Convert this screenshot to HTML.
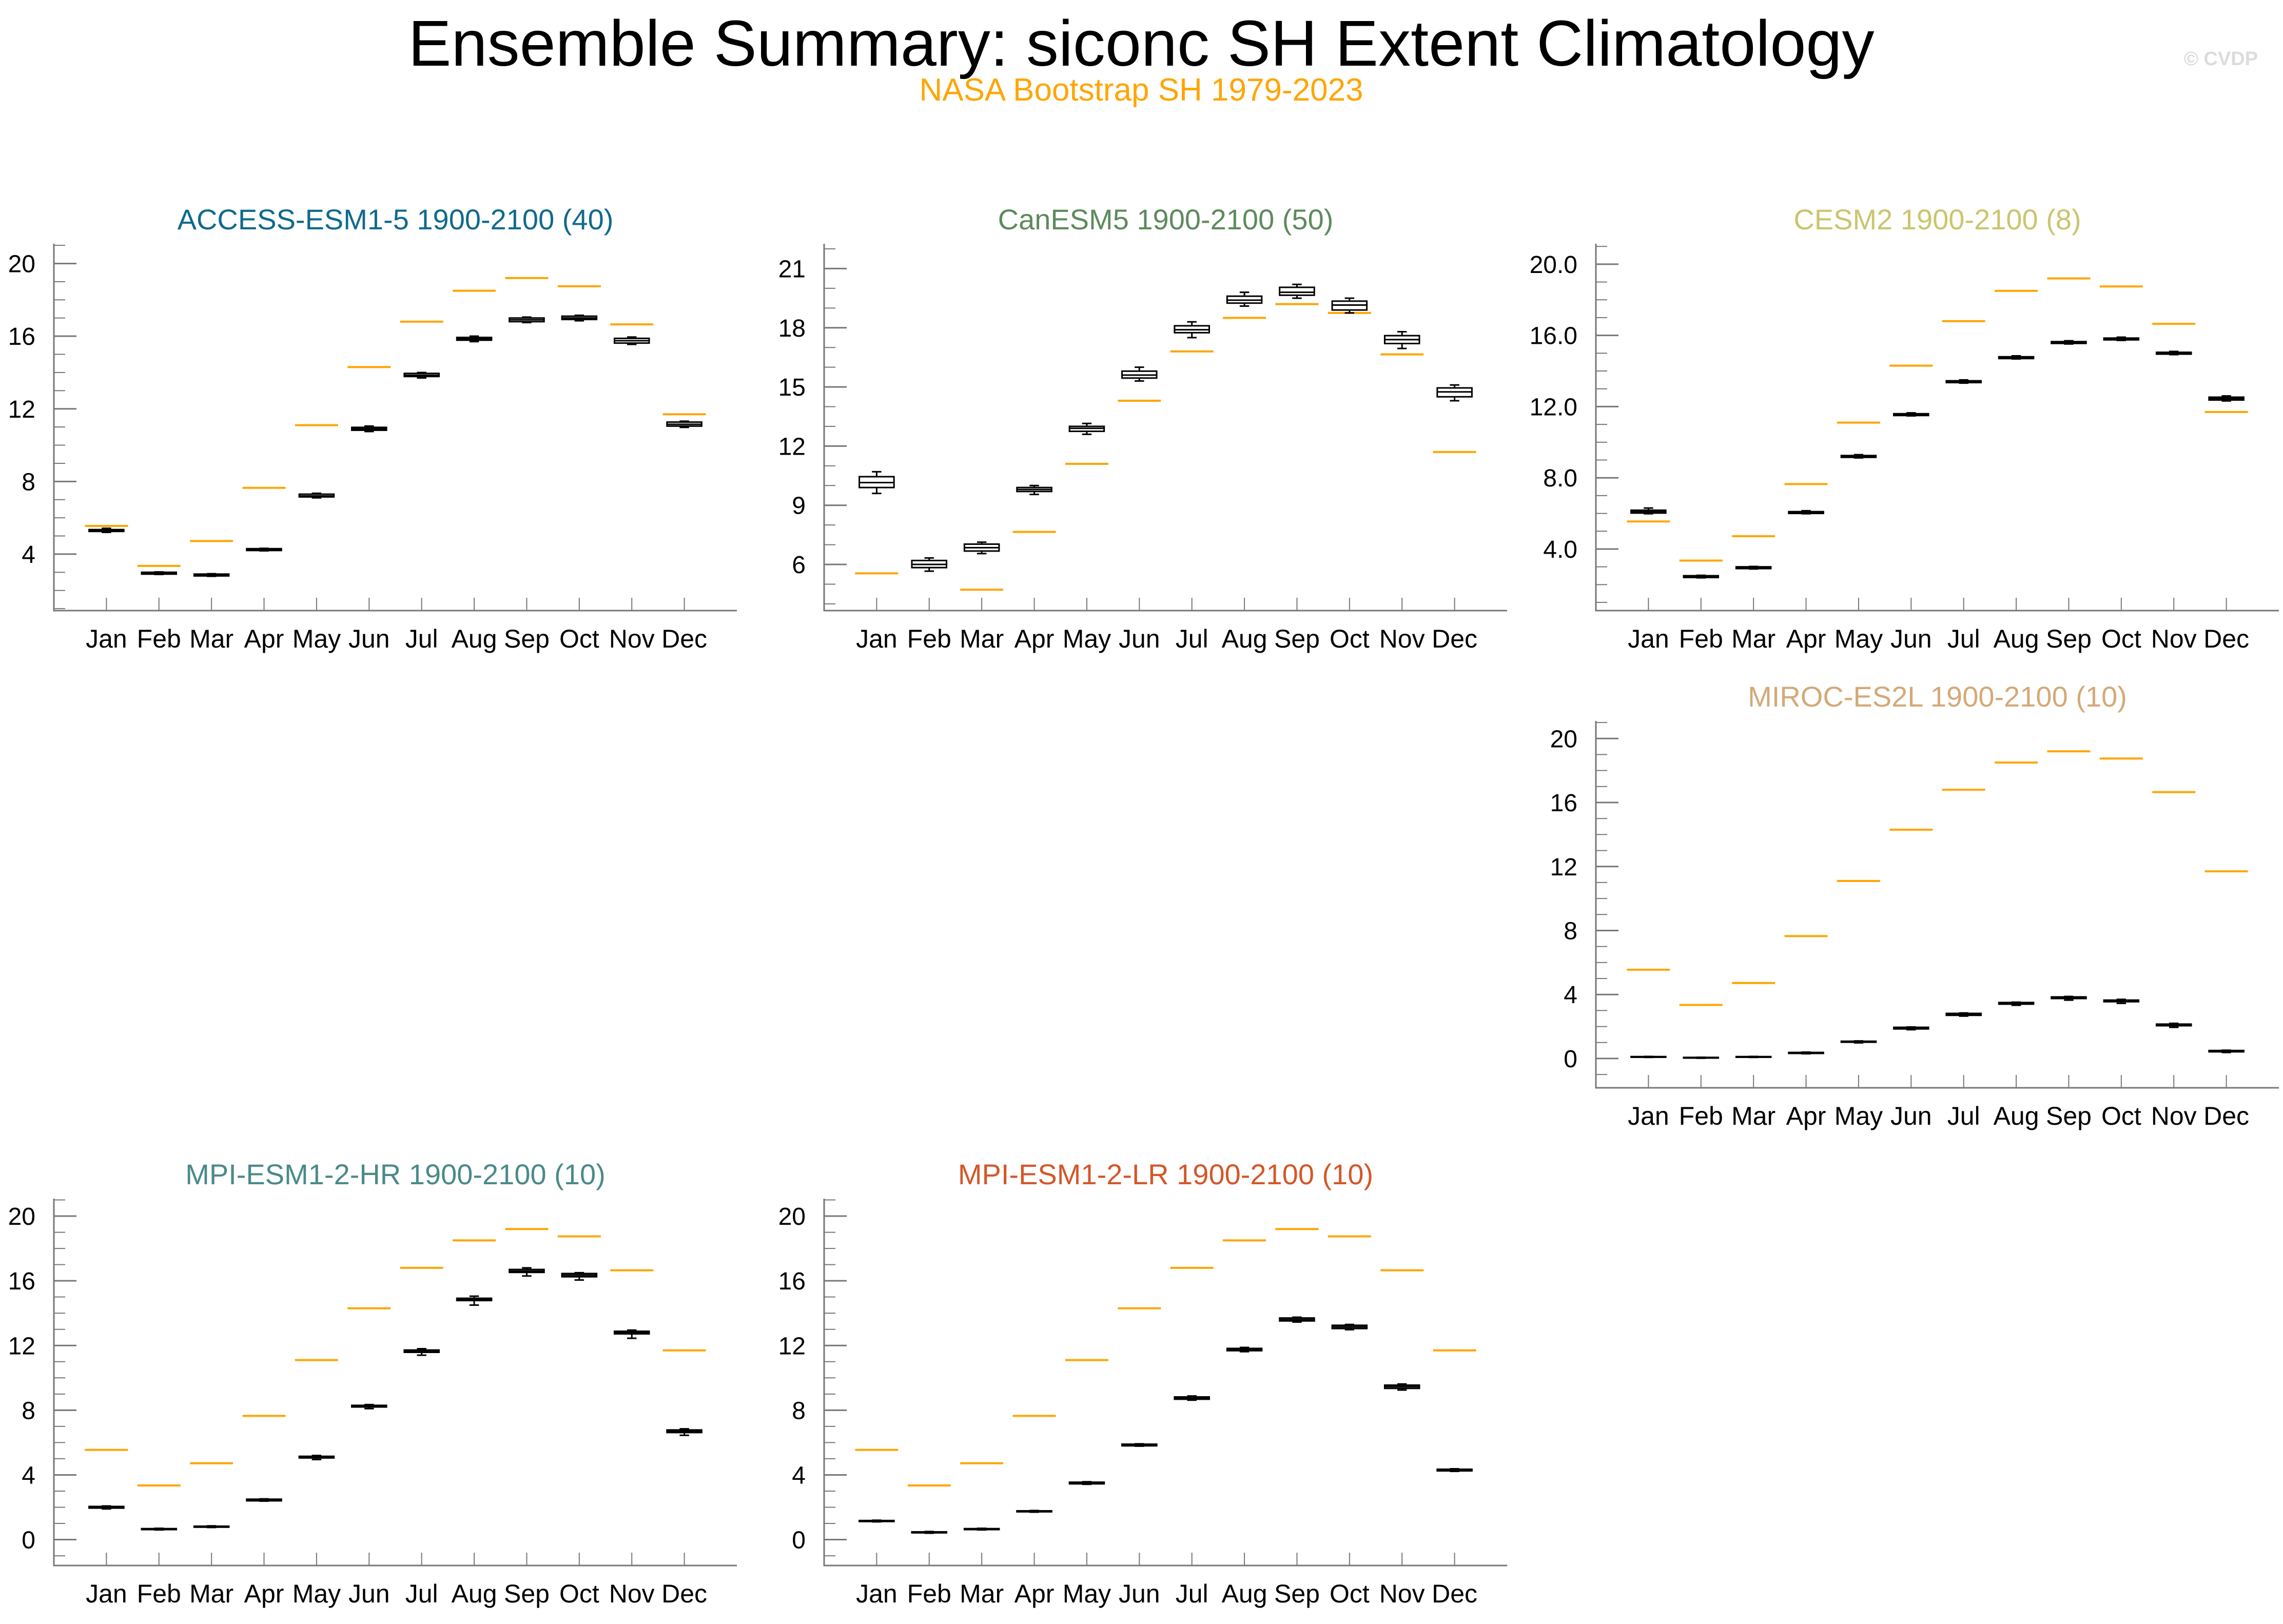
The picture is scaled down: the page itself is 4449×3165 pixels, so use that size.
<!DOCTYPE html>
<html><head><meta charset="utf-8"><title>Ensemble Summary</title>
<style>html,body{margin:0;padding:0;background:#fff}svg{display:block}text{font-family:"Liberation Sans",Arial,sans-serif}</style>
</head><body>
<svg id="root" xmlns="http://www.w3.org/2000/svg" width="4449" height="3165" viewBox="0 0 4449 3165">
<rect width="4449" height="3165" fill="#fff"/>
<defs id="defs"></defs>
<text x="2224" y="128" font-size="126" text-anchor="middle" fill="#000">Ensemble Summary: siconc SH Extent Climatology</text>
<text x="2224" y="196" font-size="62" text-anchor="middle" fill="#ffa500">NASA Bootstrap SH 1979-2023</text>
<text x="4400" y="127" font-size="38" font-weight="bold" text-anchor="end" fill="#dcdcdc">© CVDP</text>
<g id="panels"></g>
</svg>
<script>
const months = ["Jan","Feb","Mar","Apr","May","Jun","Jul","Aug","Sep","Oct","Nov","Dec"];
const obs = [5.55,3.35,4.72,7.65,11.1,14.3,16.8,18.5,19.2,18.75,16.65,11.7];

const accessMed = [5.3,2.95,2.85,4.25,7.2,10.9,13.85,15.85,16.9,17.0,15.75,11.15];
const accessQ1 = [5.25,2.9,2.8,4.2,7.15,10.82,13.78,15.78,16.8,16.92,15.62,11.05];
const accessQ3 = [5.35,3.0,2.9,4.3,7.3,10.98,13.95,15.93,17.0,17.1,15.88,11.27];
const accessLo = [5.2,2.88,2.78,4.18,7.1,10.75,13.7,15.7,16.75,16.85,15.55,10.98];
const accessHi = [5.42,3.02,2.92,4.32,7.35,11.05,14.0,16.0,17.05,17.15,15.95,11.32];

const canMed = [10.15,6.0,6.85,9.8,12.9,15.6,17.9,19.4,19.8,19.15,17.4,14.75];
const canQ1 = [9.9,5.84,6.68,9.7,12.75,15.45,17.75,19.25,19.65,18.9,17.2,14.5];
const canQ3 = [10.45,6.2,7.03,9.9,13.0,15.8,18.1,19.6,20.05,19.35,17.6,14.95];
const canLo = [9.6,5.66,6.55,9.55,12.6,15.3,17.5,19.1,19.5,18.75,16.95,14.3];
const canHi = [10.7,6.33,7.13,10.0,13.15,16.0,18.3,19.8,20.2,19.5,17.8,15.1];

const cesmMed = [6.1,2.45,2.95,6.05,9.2,11.55,13.4,14.75,15.6,15.8,15.0,12.45];
const cesmQ1 = [6.02,2.4,2.9,6.0,9.15,11.5,13.35,14.7,15.55,15.75,14.95,12.37];
const cesmQ3 = [6.18,2.5,3.0,6.1,9.25,11.6,13.45,14.8,15.65,15.85,15.05,12.53];
const cesmLo = [5.98,2.38,2.88,5.98,9.12,11.48,13.32,14.68,15.52,15.72,14.92,12.32];
const cesmHi = [6.3,2.52,3.02,6.15,9.3,11.65,13.5,14.85,15.7,15.9,15.1,12.6];

const mirocMed = [0.1,0.05,0.1,0.35,1.05,1.9,2.75,3.45,3.8,3.6,2.1,0.45];
const mirocQ1 = [0.08,0.03,0.08,0.32,1.02,1.85,2.7,3.4,3.75,3.55,2.05,0.42];
const mirocQ3 = [0.12,0.07,0.12,0.38,1.08,1.95,2.82,3.5,3.85,3.65,2.15,0.5];
const mirocLo = [0.07,0.02,0.07,0.3,0.98,1.8,2.65,3.33,3.65,3.45,1.95,0.38];
const mirocHi = [0.13,0.08,0.13,0.4,1.1,1.97,2.85,3.52,3.88,3.7,2.2,0.52];

const hrMed = [2.0,0.65,0.8,2.45,5.1,8.25,11.65,14.85,16.6,16.35,12.8,6.7];
const hrQ1 = [1.95,0.62,0.77,2.4,5.05,8.2,11.58,14.78,16.52,16.25,12.72,6.62];
const hrQ3 = [2.05,0.68,0.83,2.5,5.15,8.3,11.72,14.92,16.7,16.45,12.88,6.78];
const hrLo = [1.9,0.6,0.75,2.38,4.95,8.1,11.4,14.5,16.3,16.05,12.45,6.45];
const hrHi = [2.08,0.7,0.85,2.52,5.2,8.35,11.8,15.05,16.8,16.5,12.95,6.85];

const lrMed = [1.15,0.45,0.65,1.75,3.5,5.85,8.75,11.75,13.6,13.15,9.45,4.3];
const lrQ1 = [1.12,0.42,0.62,1.72,3.45,5.8,8.68,11.68,13.52,13.05,9.35,4.25];
const lrQ3 = [1.18,0.48,0.68,1.78,3.55,5.9,8.82,11.82,13.7,13.25,9.55,4.35];
const lrLo = [1.1,0.4,0.6,1.7,3.42,5.78,8.62,11.62,13.45,12.98,9.25,4.22];
const lrHi = [1.2,0.5,0.7,1.8,3.58,5.92,8.88,11.88,13.75,13.3,9.62,4.38];

const NS = "http://www.w3.org/2000/svg";
const root = document.getElementById("panels");
const defs = document.getElementById("defs");
function mk(tag, attrs, parent){const e=document.createElementNS(NS,tag);for(const k in attrs)e.setAttribute(k,attrs[k]);parent.appendChild(e);return e;}

const panels = [
 {name:"access-esm1-5",title:"ACCESS-ESM1-5 1900-2100 (40)",color:"#0f6a8c",L:105,T:475,ymin:0.89,ymax:21.09,ticks:[4,8,12,16,20],fmt:0,med:accessMed,q1:accessQ1,q3:accessQ3,lo:accessLo,hi:accessHi},
 {name:"canesm5",title:"CanESM5 1900-2100 (50)",color:"#5e8a5c",L:1606,T:475,ymin:3.66,ymax:22.26,ticks:[6,9,12,15,18,21],fmt:0,med:canMed,q1:canQ1,q3:canQ3,lo:canLo,hi:canHi},
 {name:"cesm2",title:"CESM2 1900-2100 (8)",color:"#cbc56e",L:3110,T:475,ymin:0.54,ymax:21.15,ticks:[4,8,12,16,20],fmt:1,med:cesmMed,q1:cesmQ1,q3:cesmQ3,lo:cesmLo,hi:cesmHi},
 {name:"miroc-es2l",title:"MIROC-ES2L 1900-2100 (10)",color:"#d2aa78",L:3110,T:1405,ymin:-1.83,ymax:21.1,ticks:[0,4,8,12,16,20],fmt:0,med:mirocMed,q1:mirocQ1,q3:mirocQ3,lo:mirocLo,hi:mirocHi},
 {name:"mpi-esm1-2-hr",title:"MPI-ESM1-2-HR 1900-2100 (10)",color:"#4a8a88",L:105,T:2336,ymin:-1.6,ymax:21.08,ticks:[0,4,8,12,16,20],fmt:0,med:hrMed,q1:hrQ1,q3:hrQ3,lo:hrLo,hi:hrHi},
 {name:"mpi-esm1-2-lr",title:"MPI-ESM1-2-LR 1900-2100 (10)",color:"#d4572a",L:1606,T:2336,ymin:-1.6,ymax:21.08,ticks:[0,4,8,12,16,20],fmt:0,med:lrMed,q1:lrQ1,q3:lrQ3,lo:lrLo,hi:lrHi}
];
const W=1331,H=715;

panels.forEach((p,pi)=>{
 const cp=mk("clipPath",{id:"clip"+pi},defs);
 mk("rect",{x:p.L,y:p.T,width:W,height:H},cp);
 const g=mk("g",{},root);
 
 
 const xs=v=>p.L+v/13*W;
 const ys=v=>p.T+H-(v-p.ymin)/(p.ymax-p.ymin)*H;
 const t=mk("text",{x:p.L+W/2,y:p.T-28,"font-size":56,"text-anchor":"middle",fill:p.color},g);
 t.textContent=p.title;
 
 
 const ax=mk("path",{d:`M${p.L} ${p.T}V${p.T+H}H${p.L+W}`,stroke:"#777",fill:"none","stroke-width":3},g);
 
 
 for(let v=Math.ceil(p.ymin);v<=p.ymax;v++){
  const maj=p.ticks.includes(v);
  const y=ys(v);
  const tk=mk("line",{x1:p.L,x2:p.L+(maj?44:22),y1:y,y2:y,stroke:"#777","stroke-width":maj?3:2},g);
  
  
 }
 p.ticks.forEach(v=>{
  const tl=mk("text",{x:p.L-36,y:ys(v)+17,"font-size":48,"text-anchor":"end",fill:"#000"},g);
  tl.textContent=v.toFixed(p.fmt);
  
  
 });
 const marks=mk("g",{"clip-path":`url(#clip${pi})`},g);
 
 
 months.forEach((m,i)=>{
  const x=xs(i+1);
  const tk=mk("line",{x1:x,x2:x,y1:p.T+H,y2:p.T+H-25,stroke:"#777","stroke-width":2},g);
  
  
  const ml=mk("text",{x:x,y:p.T+H+72,"font-size":50,"text-anchor":"middle",fill:"#000"},g);
  ml.textContent=m;
  
  
  const bw=0.33,ow=0.41,cw=0.09;
  const ob=mk("line",{x1:xs(i+1-ow),x2:xs(i+1+ow),y1:ys(obs[i]),y2:ys(obs[i]),stroke:"#ffa500","stroke-width":4},marks);
  
  
  const bg=mk("g",{stroke:"#000","stroke-width":3,fill:"#fff"},marks);
  
  
  mk("line",{x1:x,x2:x,y1:ys(p.hi[i]),y2:ys(p.lo[i])},bg);
  mk("line",{x1:xs(i+1-cw),x2:xs(i+1+cw),y1:ys(p.hi[i]),y2:ys(p.hi[i])},bg);
  mk("line",{x1:xs(i+1-cw),x2:xs(i+1+cw),y1:ys(p.lo[i]),y2:ys(p.lo[i])},bg);
  mk("rect",{x:xs(i+1-bw),y:ys(p.q3[i]),width:xs(i+1+bw)-xs(i+1-bw),height:Math.max(ys(p.q1[i])-ys(p.q3[i]),1)},bg);
  mk("line",{x1:xs(i+1-bw),x2:xs(i+1+bw),y1:ys(p.med[i]),y2:ys(p.med[i])},bg);
 });
});
</script>
</body></html>
